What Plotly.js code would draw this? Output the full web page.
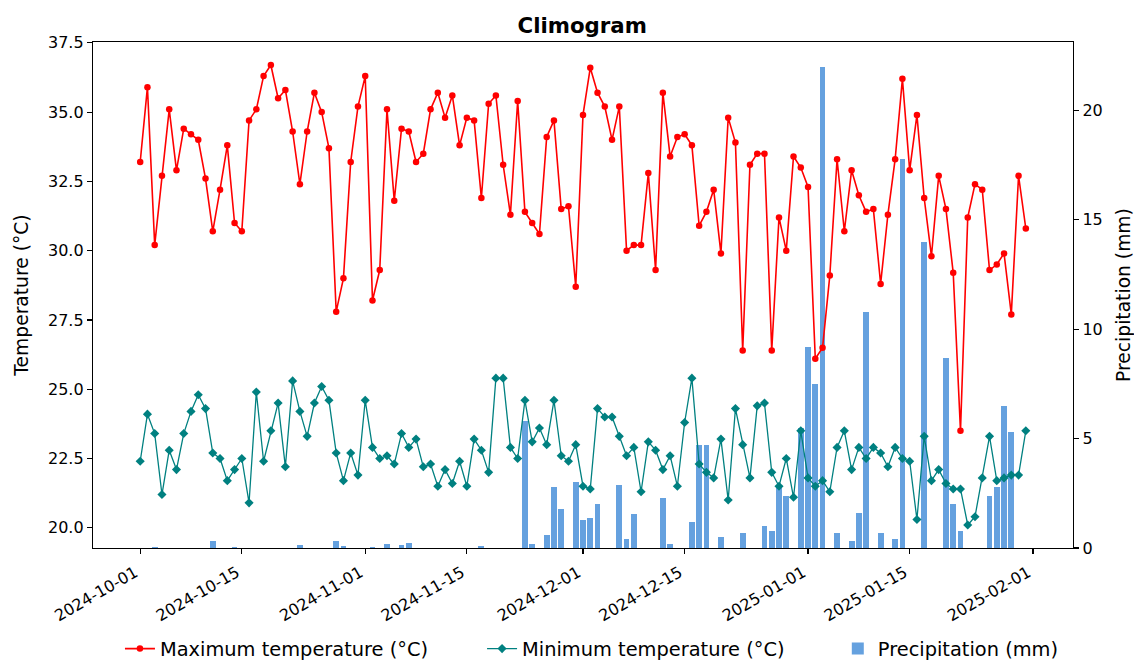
<!DOCTYPE html>
<html>
<head>
<meta charset="utf-8">
<script src="https://cdn.plot.ly/plotly-3.0.1.min.js"></script>
<style>
  html, body { margin: 0; padding: 0; background: #fff; }
  #chart { width: 1134px; height: 660px; }
</style>
</head>
<body>
<div id="chart"></div>
<script>
// Daily series, 2024-10-01 .. 2025-01-31
const START_DATE = '2024-10-01';
const DAY_COUNT = 123;

const maxTemp = [
  33.2, 35.9, 30.2, 32.7, 35.1, 32.9, 34.4, 34.2, 34.0, 32.6,
  30.7, 32.2, 33.8, 31.0, 30.7, 34.7, 35.1, 36.3, 36.7, 35.5,
  35.8, 34.3, 32.4, 34.3, 35.7, 35.0, 33.7, 27.8, 29.0, 33.2,
  35.2, 36.3, 28.2, 29.3, 35.1, 31.8, 34.4, 34.3, 33.2, 33.5,
  35.1, 35.7, 34.8, 35.6, 33.8, 34.8, 34.7, 31.9, 35.3, 35.6,
  33.1, 31.3, 35.4, 31.4, 31.0, 30.6, 34.1, 34.7, 31.5, 31.6,
  28.7, 34.9, 36.6, 35.7, 35.2, 34.0, 35.2, 30.0, 30.2, 30.2,
  32.8, 29.3, 35.7, 33.4, 34.1, 34.2, 33.8, 30.9, 31.4, 32.2,
  29.9, 34.8, 33.9, 26.4, 33.1, 33.5, 33.5, 26.4, 31.2, 30.0,
  33.4, 33.0, 32.3, 26.1, 26.5, 29.1, 33.3, 30.7, 32.9, 32.0,
  31.4, 31.5, 28.8, 31.3, 33.3, 36.2, 32.9, 34.9, 31.9, 29.8,
  32.7, 31.5, 29.2, 23.5, 31.2, 32.4, 32.2, 29.3, 29.5, 29.9,
  27.7, 32.7, 30.8
];

const minTemp = [
  22.4, 24.1, 23.4, 21.2, 22.8, 22.1, 23.4, 24.2, 24.8, 24.3,
  22.7, 22.5, 21.7, 22.1, 22.5, 20.9, 24.9, 22.4, 23.5, 24.5,
  22.2, 25.3, 24.2, 23.3, 24.5, 25.1, 24.6, 22.7, 21.7, 22.7,
  21.9, 24.6, 22.9, 22.5, 22.6, 22.3, 23.4, 22.9, 23.2, 22.2,
  22.3, 21.5, 22.1, 21.6, 22.4, 21.5, 23.2, 22.8, 22.0, 25.4,
  25.4, 22.9, 22.5, 24.6, 23.1, 23.6, 23.0, 24.6, 22.6, 22.4,
  23.0, 21.5, 21.4, 24.3, 24.0, 24.0, 23.3, 22.6, 22.9, 21.3,
  23.1, 22.8, 22.1, 22.6, 21.5, 23.8, 25.4, 22.3, 22.0, 21.8,
  23.2, 21.0, 24.3, 23.0, 21.8, 24.4, 24.5, 22.0, 21.5, 22.5,
  21.1, 23.5, 21.8, 21.5, 21.7, 21.3, 22.9, 23.5, 22.1, 22.9,
  22.5, 22.9, 22.7, 22.2, 22.9, 22.5, 22.4, 20.3, 23.3, 21.7,
  22.1, 21.6, 21.4, 21.4, 20.1, 20.4, 21.8, 23.3, 21.7, 21.8,
  21.9, 21.9, 23.5
];

const precip = [
  0, 0, 0.05, 0, 0, 0, 0, 0, 0, 0,
  0.3, 0, 0, 0.05, 0, 0, 0, 0, 0, 0,
  0, 0, 0.15, 0, 0, 0, 0, 0.3, 0.1, 0,
  0, 0, 0.05, 0, 0.2, 0, 0.15, 0.25, 0, 0,
  0, 0, 0, 0, 0, 0, 0, 0.1, 0, 0,
  0, 0, 0, 5.8, 0.2, 0, 0.6, 2.8, 1.8, 0,
  3.0, 1.3, 1.35, 2.0, 0, 0, 2.9, 0.4, 1.55, 0,
  0, 0, 2.3, 0.2, 0, 0, 1.2, 4.7, 4.7, 0,
  0.5, 0, 0, 0.7, 0, 0, 1.0, 0.8, 2.85, 2.4,
  0, 5.5, 9.2, 7.5, 22.0, 0, 0.7, 0, 0.3, 1.6,
  10.8, 0, 0.7, 0, 0.4, 17.8, 0, 0, 14.0, 0,
  0, 8.7, 2.0, 0.8, 0, 0, 0, 2.4, 2.8, 6.5,
  5.3, 0, 0
];

const tickDates = ['2024-10-01', '2024-10-15', '2024-11-01', '2024-11-15',
                   '2024-12-01', '2024-12-15', '2025-01-01', '2025-01-15', '2025-02-01'];

// build the ISO date for each day of the record
function isoDay(offset) {
  const d = new Date(START_DATE + 'T00:00:00Z');
  d.setUTCDate(d.getUTCDate() + offset);
  return d.toISOString().slice(0, 10);
}
const dates = [];
for (let i = 0; i < DAY_COUNT; i++) dates.push(isoDay(i));

const FONT = 'DejaVu Sans, sans-serif';
const TICK_SIZE = 16;
const LABEL_SIZE = 18.7;
const LEGEND_SIZE = 19.4;
const DAY_MS = 86400000;

const traces = [
  {
    type: 'bar', x: dates, y: precip, yaxis: 'y',
    name: 'Precipitation (mm)', legend: 'legend3',
    width: 0.8 * DAY_MS,
    marker: { color: 'rgba(74,144,217,0.85)', line: { width: 0 } }
  },
  {
    type: 'scatter', mode: 'lines+markers', x: dates, y: maxTemp, yaxis: 'y2',
    name: 'Maximum temperature (°C)', legend: 'legend',
    line: { color: '#ff0000', width: 1.6 },
    marker: { color: '#ff0000', size: 6.5, symbol: 'circle' }
  },
  {
    type: 'scatter', mode: 'lines+markers', x: dates, y: minTemp, yaxis: 'y2',
    name: 'Minimum temperature (°C)', legend: 'legend2',
    line: { color: '#008080', width: 1.3 },
    marker: { color: '#008080', size: 7, symbol: 'diamond' }
  }
];

// one legend box per entry, laid out in a single row under the axis
function legendAt(x) {
  return {
    orientation: 'h', xref: 'paper', x: x, xanchor: 'left',
    yref: 'container', y: 0.0167, yanchor: 'middle',
    font: { family: FONT, size: LEGEND_SIZE, color: '#000' },
    bgcolor: 'rgba(0,0,0,0)', borderwidth: 0
  };
}

const axisCommon = {
  ticks: 'outside', ticklen: 5, tickwidth: 1.2, tickcolor: '#000',
  showline: true, linecolor: '#000', linewidth: 1.2,
  showgrid: false, zeroline: false, automargin: false,
  tickfont: { family: FONT, size: TICK_SIZE, color: '#000' }
};

const layout = {
  width: 1134, height: 660,
  paper_bgcolor: '#ffffff', plot_bgcolor: '#ffffff',
  font: { family: FONT, size: TICK_SIZE, color: '#000' },
  margin: { l: 93, r: 61, t: 42, b: 112 },
  title: {
    text: '<b>Climogram</b>',
    font: { family: FONT, size: 21.3, color: '#000' },
    x: 0.5134, xanchor: 'center', y: 0.962, yanchor: 'middle'
  },
  bargap: 0,
  showlegend: true,
  legend: legendAt(0.0275),
  legend2: legendAt(0.397),
  legend3: legendAt(0.760),
  xaxis: Object.assign({}, axisCommon, {
    type: 'date',
    range: ['2024-09-24 12:00', '2025-02-06 12:00'],
    tickvals: tickDates, ticktext: tickDates,
    tickangle: -30,
    ticklabelshift: -5, ticklabelstandoff: 3,
    mirror: true
  }),
  yaxis: Object.assign({}, axisCommon, {
    side: 'right',
    range: [0, 23.13],
    tickvals: [0, 5, 10, 15, 20],
    title: { text: 'Precipitation (mm)', font: { family: FONT, size: LABEL_SIZE, color: '#000' } }
  }),
  yaxis2: Object.assign({}, axisCommon, {
    overlaying: 'y', side: 'left',
    range: [19.27, 37.53],
    tickvals: [20, 22.5, 25, 27.5, 30, 32.5, 35, 37.5],
    tickformat: '.1f',
    title: { text: 'Temperature (°C)', standoff: 14,
             font: { family: FONT, size: LABEL_SIZE, color: '#000' } }
  })
};

Plotly.newPlot('chart', traces, layout, { displayModeBar: false, staticPlot: true });
</script>
</body>
</html>
